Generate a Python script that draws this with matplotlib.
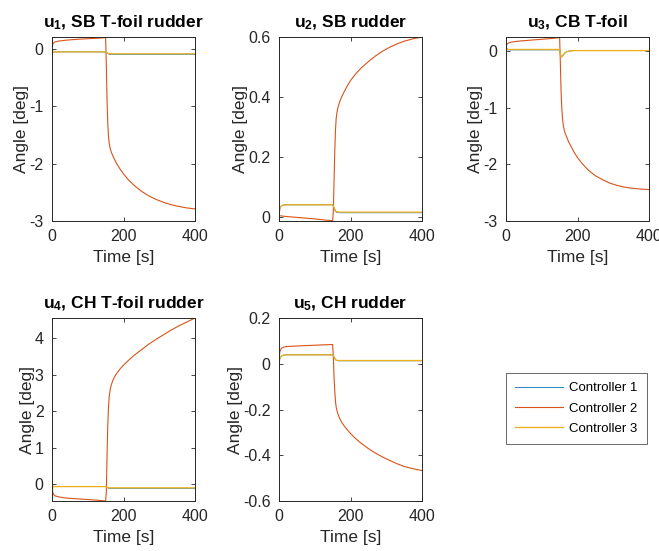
import matplotlib
matplotlib.use("Agg")
import matplotlib.pyplot as plt

plt.rcParams['font.family'] = ['Liberation Sans', 'DejaVu Sans']
plt.rcParams['axes.unicode_minus'] = False
plt.rcParams['mathtext.fontset'] = 'custom'
plt.rcParams['mathtext.rm'] = 'Liberation Sans:bold'
plt.rcParams['mathtext.it'] = 'Liberation Sans:bold'
plt.rcParams['mathtext.default'] = 'rm'

# time samples [s]
t = [0, 1, 2, 4, 7, 12, 20, 40, 70, 100, 130, 150,
     152, 154, 156, 158, 160, 163, 166, 170, 175, 180, 190, 200, 215, 230, 250, 270,
     290, 310, 330, 350, 375, 400]

# u1, SB T-foil rudder
u1_c1 = [0, -0.12, -0.03, -0.05, -0.05, -0.05, -0.05, -0.05, -0.05, -0.05, -0.05, -0.05,
         -0.058, -0.07, -0.08, -0.086, -0.089, -0.091, -0.091, -0.091, -0.091, -0.091, -0.091,
         -0.091, -0.091, -0.091, -0.091, -0.091, -0.091, -0.091, -0.091, -0.091, -0.091, -0.091]
u1_c2 = [0, 0.05, 0.08, 0.105, 0.12, 0.13, 0.14, 0.155, 0.17, 0.18, 0.19, 0.20,
         -0.3, -0.9, -1.3, -1.52, -1.64, -1.74, -1.80, -1.86, -1.93, -1.99, -2.09, -2.18,
         -2.29, -2.38, -2.48, -2.56, -2.62, -2.67, -2.71, -2.74, -2.77, -2.79]
u1_c3 = [0, -0.12, -0.03, -0.05, -0.05, -0.05, -0.05, -0.05, -0.05, -0.05, -0.05, -0.05,
         -0.055, -0.065, -0.073, -0.078, -0.08, -0.082, -0.082, -0.082, -0.082, -0.082, -0.082,
         -0.082, -0.082, -0.082, -0.082, -0.082, -0.082, -0.082, -0.082, -0.082, -0.082, -0.082]

# u2, SB rudder
u2_c1 = [0, 0.015, 0.025, 0.033, 0.038, 0.04, 0.041, 0.041, 0.041, 0.041, 0.041, 0.041,
         0.036, 0.03, 0.024, 0.019, 0.017, 0.0155, 0.015, 0.0145, 0.0145, 0.0145, 0.0145,
         0.0145, 0.0145, 0.0145, 0.0145, 0.0145, 0.0145, 0.0145, 0.0145, 0.0145, 0.0145, 0.0145]
u2_c2 = [0.005, 0.005, 0.005, 0.004, 0.004, 0.003, 0.002, 0.0, -0.003, -0.006, -0.01, -0.012,
         0.02, 0.12, 0.22, 0.29, 0.33, 0.355, 0.37, 0.385, 0.40, 0.412, 0.435, 0.455,
         0.478, 0.497, 0.518, 0.537, 0.553, 0.566, 0.577, 0.586, 0.594, 0.60]
u2_c3 = [0, 0.015, 0.025, 0.033, 0.038, 0.04, 0.041, 0.041, 0.041, 0.041, 0.041, 0.041,
         0.038, 0.032, 0.026, 0.021, 0.019, 0.0175, 0.017, 0.0165, 0.0165, 0.0165, 0.0165,
         0.0165, 0.0165, 0.0165, 0.0165, 0.0165, 0.0165, 0.0165, 0.0165, 0.0165, 0.0165, 0.0165]

# u3, CB T-foil
u3_c1 = [0.15, -0.05, 0.05, 0.03, 0.022, 0.022, 0.022, 0.022, 0.022, 0.022, 0.022, 0.022,
         -0.05, -0.09, -0.1, -0.09, -0.07, -0.045, -0.025, -0.01, 0.0, 0.005, 0.01,
         0.01, 0.01, 0.01, 0.01, 0.01, 0.01, 0.01, 0.01, 0.01, 0.01, 0.01]
u3_c2 = [0, 0.08, 0.11, 0.13, 0.145, 0.155, 0.165, 0.18, 0.195, 0.21, 0.225, 0.24,
         -0.2, -0.7, -1.0, -1.18, -1.3, -1.4, -1.46, -1.52, -1.6, -1.66, -1.78, -1.88,
         -2.0, -2.1, -2.2, -2.27, -2.33, -2.37, -2.4, -2.42, -2.435, -2.445]
u3_c3 = [0.15, -0.05, 0.05, 0.035, 0.03, 0.03, 0.03, 0.03, 0.03, 0.03, 0.03, 0.03,
         -0.05, -0.09, -0.1, -0.09, -0.07, -0.045, -0.025, -0.01, 0.0, 0.005, 0.01,
         0.01, 0.01, 0.01, 0.01, 0.01, 0.01, 0.01, 0.01, 0.01, 0.01, 0.01]

# u4, CH T-foil rudder
u4_c1 = [0.06, -0.25, -0.05, -0.065, -0.065, -0.065, -0.065, -0.065, -0.065, -0.065, -0.065,
         -0.065, -0.075, -0.09, -0.1, -0.108, -0.112, -0.112, -0.112, -0.112, -0.112, -0.112,
         -0.112, -0.112, -0.112, -0.112, -0.112, -0.112, -0.112, -0.112, -0.112, -0.112, -0.112,
         -0.112]
u4_c2 = [0, -0.15, -0.22, -0.27, -0.31, -0.33, -0.35, -0.38, -0.40, -0.42, -0.44, -0.46,
         -0.2, 0.8, 1.6, 2.1, 2.4, 2.6, 2.72, 2.84, 2.94, 3.02, 3.15, 3.26,
         3.40, 3.53, 3.68, 3.83, 3.96, 4.08, 4.20, 4.31, 4.43, 4.55]
u4_c3 = [0.06, -0.25, -0.05, -0.065, -0.065, -0.065, -0.065, -0.065, -0.065, -0.065, -0.065,
         -0.065, -0.07, -0.08, -0.09, -0.095, -0.1, -0.1, -0.1, -0.1, -0.1, -0.1,
         -0.1, -0.1, -0.1, -0.1, -0.1, -0.1, -0.1, -0.1, -0.1, -0.1, -0.1, -0.1]

# u5, CH rudder
u5_c1 = [0, 0.012, 0.02, 0.028, 0.034, 0.037, 0.039, 0.039, 0.039, 0.039, 0.039, 0.039,
         0.035, 0.029, 0.023, 0.018, 0.015, 0.0135, 0.013, 0.013, 0.013, 0.013, 0.013,
         0.013, 0.013, 0.013, 0.013, 0.013, 0.013, 0.013, 0.013, 0.013, 0.013, 0.013]
u5_c2 = [0, 0.03, 0.048, 0.06, 0.068, 0.072, 0.075, 0.077, 0.079, 0.081, 0.083, 0.084,
         0.03, -0.06, -0.12, -0.165, -0.19, -0.21, -0.225, -0.24, -0.255, -0.267, -0.287,
         -0.305, -0.328, -0.348, -0.371, -0.391, -0.408, -0.423, -0.437, -0.449, -0.459, -0.467]
u5_c3 = [0, 0.012, 0.02, 0.028, 0.034, 0.037, 0.039, 0.039, 0.039, 0.039, 0.039, 0.039,
         0.036, 0.03, 0.024, 0.019, 0.016, 0.0145, 0.014, 0.014, 0.014, 0.014, 0.014,
         0.014, 0.014, 0.014, 0.014, 0.014, 0.014, 0.014, 0.014, 0.014, 0.014, 0.014]

titles = [r'$u_1$, SB T-foil rudder', r'$u_2$, SB rudder', r'$u_3$, CB T-foil',
          r'$u_4$, CH T-foil rudder', r'$u_5$, CH rudder']
series = [(u1_c1, u1_c2, u1_c3), (u2_c1, u2_c2, u2_c3), (u3_c1, u3_c2, u3_c3),
          (u4_c1, u4_c2, u4_c3), (u5_c1, u5_c2, u5_c3)]
ylims = [(-3, 0.21), (-0.013, 0.6), (-3, 0.25), (-0.46, 4.55), (-0.6, 0.2)]
yticks = [[-3, -2, -1, 0], [0, 0.2, 0.4, 0.6], [-3, -2, -1, 0], [0, 1, 2, 3, 4],
          [-0.6, -0.4, -0.2, 0, 0.2]]
labels = ['Controller 1', 'Controller 2', 'Controller 3']
colors = ['#0072BD', '#D95319', '#EDB120']
widths = [0.6, 0.8, 0.95]

W, H = 659, 551
# axes boxes in pixels: left, top, right, bottom
boxes = [(52, 37, 195, 221), (279, 37, 422, 221), (506, 37, 649, 221),
         (52, 318, 195, 501), (279, 318, 422, 501)]

fig = plt.figure(figsize=(W / 100, H / 100), dpi=100)
axc = '#262626'
lines = []
for i in range(5):
    l, tp, r, b = boxes[i]
    ax = fig.add_axes([l / W, (H - b) / H, (r - l) / W, (b - tp) / H])
    lines = []
    for data, c, w in zip(series[i], colors, widths):
        ln, = ax.plot(t, data, color=c, lw=w)
        lines.append(ln)
    ax.set_xlim(0, 400)
    ax.set_ylim(*ylims[i])
    ax.set_xticks([0, 200, 400])
    ax.set_yticks(yticks[i])
    ax.set_yticklabels(['%g' % v for v in yticks[i]])
    ax.tick_params(direction='in', top=True, right=True, length=3, width=0.6,
                   labelsize=11.5, colors=axc)
    ax.tick_params(axis='x', pad=6)
    ax.tick_params(axis='y', pad=6)
    for s in ax.spines.values():
        s.set_color(axc)
        s.set_linewidth(0.7)
    ax.set_title(titles[i], fontsize=12.5, fontweight='bold', color='black', pad=7)
    ax.set_xlabel('Time [s]', fontsize=12.5, color=axc, labelpad=4)
    ax.set_ylabel('Angle [deg]', fontsize=12.5, color=axc, labelpad=0)

leg = fig.legend(lines, labels, loc='upper left', bbox_to_anchor=(506 / W, 1 - 373 / H),
                 fontsize=9.5, frameon=True, fancybox=False, edgecolor=axc,
                 handlelength=3.6, handletextpad=0.5, borderpad=0.7, labelspacing=0.6,
                 borderaxespad=0)
leg.get_frame().set_linewidth(0.6)

fig.savefig('out.png', dpi=100)
